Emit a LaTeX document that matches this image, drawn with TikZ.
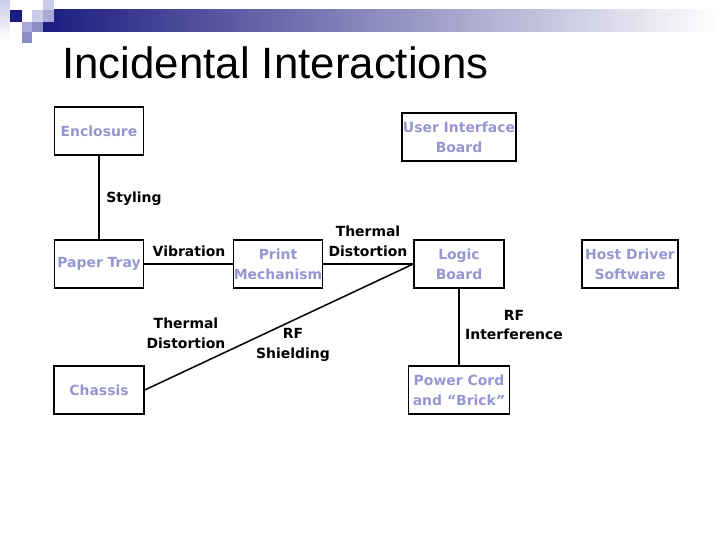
\documentclass[tikz,border=0pt]{standalone}
\usepackage{fontspec}
\setmainfont{Liberation Sans}
\newfontfamily\diagfont{DejaVu Sans}
\definecolor{navy}{RGB}{28,28,128}
\definecolor{lavtext}{RGB}{150,150,208}
\definecolor{sqlight}{RGB}{204,204,232}
\definecolor{sqmid}{RGB}{170,170,216}
\definecolor{sqdark}{RGB}{140,140,196}
\definecolor{barmid}{RGB}{172,172,200}

\begin{document}
\begin{tikzpicture}[x=1bp, y=-1bp,
    box/.style={draw, line width=1.5bp, minimum height=48bp, inner sep=0pt,
        align=center, text=lavtext, font=\diagfont\bfseries\fontsize{14}{20}\selectfont},
    lbl/.style={align=center, font=\diagfont\bfseries\fontsize{14}{20}\selectfont},
    link/.style={line width=1.5bp}]
    \useasboundingbox (0,0) rectangle (720,540);

    % 1. Thanh trang trí phía trên
    \shade[top color=sqlight, bottom color=white] (0,0) rectangle (10,40);
    \shade[left color=navy, middle color=barmid, right color=white] (43,10) rectangle (720,32);
    \fill[navy] (10,10) rectangle (22,22);
    \fill[sqlight] (32,10) rectangle (43,22);
    \fill[sqlight] (43,0) rectangle (54,10);
    \fill[sqmid] (43,10) rectangle (54,22);
    \fill[sqmid] (22,22) rectangle (32,32);
    \fill[sqdark] (32,22) rectangle (43,32);
    \fill[sqdark] (22,32) rectangle (32,43);
    \node[anchor=base west, inner sep=0pt, font=\fontsize{44}{44}\selectfont] (title) at (62,79) {Incidental Interactions};

    % 2. Các khối
    \node[box, minimum width=89bp] (encl) at (99,131) {Enclosure};
    \node[box, minimum width=114bp] (uib) at (459,137) {User Interface\\Board};
    \node[box, minimum width=89bp] (tray) at (99,264) {Paper Tray};
    \node[box, minimum width=89bp] (print) at (278,264) {Print\\Mechanism};
    \node[box, minimum width=90bp] (logic) at (459,264) {Logic\\Board};
    \node[box, minimum width=96bp] (host) at (630,264) {Host Driver\\Software};
    \node[box, minimum width=90bp] (chassis) at (99,390) {Chassis};
    \node[box, minimum width=101bp] (power) at (459,390) {Power Cord\\and “Brick”};

    % 3. Các đường nối
    \draw[link] (encl) -- (tray);
    \draw[link] (tray) -- (print);
    \draw[link] (print) -- (logic);
    \draw[link] (chassis.east) -- (logic.west);
    \draw[link] (logic) -- (power);

    % 4. Nhãn tương tác
    \node[lbl] (styling) at (134,199) {Styling};
    \node[lbl] (vibr) at (189,251) {Vibration};
    \node[lbl] (thermtop) at (368,241) {Thermal\\Distortion};
    \node[lbl] (thermlow) at (186,333) {Thermal\\Distortion};
    \node[lbl] (rfshield) at (293,345) {RF\\Shielding};
    \node[lbl] (rfint) at (514,325) {RF\\Interference};
\end{tikzpicture}
\end{document}
